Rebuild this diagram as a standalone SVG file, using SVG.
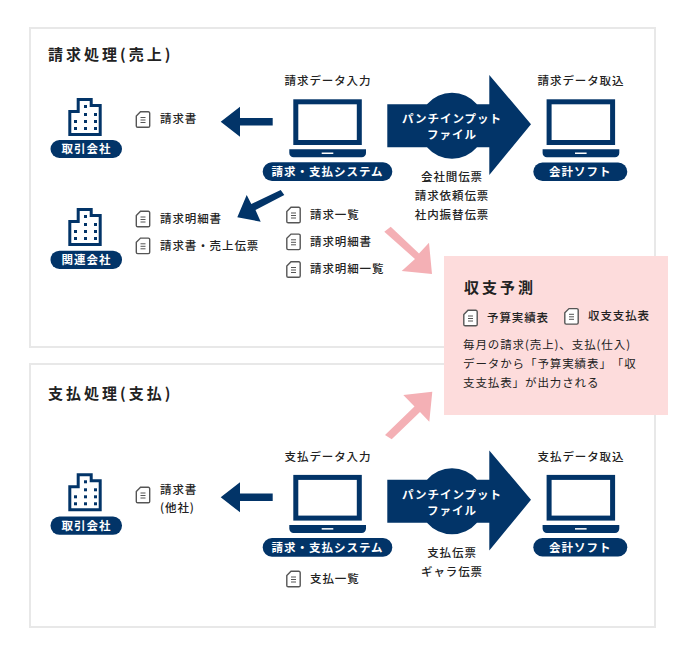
<svg xmlns="http://www.w3.org/2000/svg" width="685" height="659" viewBox="0 0 685 659">
<style>
text{font-family:"Noto Sans CJK JP","Noto Sans",sans-serif;fill:#222;font-size:11.500px;font-weight:500;letter-spacing:.9px;text-spacing-trim:space-all}
.c{text-anchor:middle}
.t{font-size:15px;font-weight:700;letter-spacing:3px}
.w{fill:#fff;font-size:11.500px;font-weight:700;text-anchor:middle;letter-spacing:1px}
.p{fill:#fff;stroke:#e8e8e8;stroke-width:2}
.n{fill:#023468}
.k{fill:#f4b0b5}
.b{font-weight:400}
</style>
<defs>
<g id="doc"><path d="M5 .8H12.800a1.400 1.400 0 0 1 1.400 1.400V14.900a1.400 1.400 0 0 1-1.400 1.400H2.200A1.400 1.400 0 0 1 .8 14.900V5Z" fill="#fff" stroke="#555" stroke-width="1.400"/><path d="M5 6.500H10M5 9H10M5 11.500H10" stroke="#555" stroke-width="1"/></g>
<g id="laptop"><rect x="295.800" y="101.800" width="63.500" height="40.700" fill="#fff" stroke="#023468" stroke-width="5"/><path d="M289.300 149.300H366V153a4.300 4.300 0 0 1-4.300 4.300H293.600a4.300 4.300 0 0 1-4.300-4.300Z" fill="#023468"/><rect x="321.700" y="152.500" width="11.600" height="1.500" fill="#fff"/></g>
<g id="building"><path d="M69.800 134.500V111.500H78.200V99.500H91.200V105.500H100.200V134.500Z" fill="#fff" stroke="#023468" stroke-width="3"/><g fill="#023468"><rect x="84" y="105" width="3" height="3"/><rect x="84" y="113" width="3" height="3"/><rect x="94" y="113" width="3" height="3"/><rect x="74" y="120" width="3" height="3"/><rect x="84" y="120" width="3" height="3"/><rect x="94" y="120" width="3" height="3"/><rect x="74" y="127" width="3" height="3"/><rect x="84" y="127" width="3" height="3"/><rect x="94" y="127" width="3" height="3"/></g></g>
<path id="bigarrow" d="M387.300 104.300H427A33 33 0 0 1 477 104.300H489.300V75L531 124.300 489.300 175V147.300H477A33 33 0 0 1 427 147.300H387.300Z" fill="#023468"/>
<path id="leftarrow" d="M220.700 121.700L240 106.700V118H272.700V125.500H240V136.700Z" fill="#023468"/>
</defs>
<rect class="p" x="30" y="28" width="625" height="319"/>
<rect class="p" x="30" y="364" width="625" height="263"/>
<rect x="444" y="256" width="224" height="159" fill="#fddcdc"/>
<g id="connectors">
<use href="#leftarrow"/>
<use href="#leftarrow" y="375.600"/>
<path class="n" d="M237.300 217.300L246.700 195 251.300 204 280.700 190 284.300 195 255.500 210 260.700 221.700Z"/>
<path class="k" d="M432 274L401.700 271 415 259 384.300 231.700 390.700 226.700 419 253.500 429 242.700Z"/>
<path class="k" d="M432.300 391.700L403.300 395 414.500 406.500 385 435 391.700 439.300 420 412 429.300 421.700Z"/>
<use href="#bigarrow"/>
<use href="#bigarrow" y="375.500"/>
</g>
<text class="t" x="48" y="60">請求処理(売上)</text>
<text class="t" x="48" y="399">支払処理(支払)</text>
<g id="n-torihiki1"><use href="#building"/><rect class="n" x="50.500" y="140" width="71.500" height="18" rx="9"/><text class="w" x="86.500" y="153.300">取引会社</text></g>
<g id="n-kanren"><use href="#building" y="110"/><rect class="n" x="50.500" y="250.700" width="71.500" height="18.300" rx="9"/><text class="w" x="86.500" y="264.200">関連会社</text></g>
<g id="n-torihiki2"><use href="#building" y="375.300"/><rect class="n" x="50.500" y="516.500" width="71.500" height="18.300" rx="9"/><text class="w" x="86.500" y="530">取引会社</text></g>
<g id="n-seikyu-in"><text class="c" x="328" y="85">請求データ入力</text><use href="#laptop"/><rect class="n" x="262.700" y="162.300" width="129.600" height="18.700" rx="9.300"/><text class="w" x="327.500" y="176">請求・支払システム</text></g>
<g id="n-seikyu-soft"><text class="c" x="581" y="85">請求データ取込</text><use href="#laptop" x="253.300"/><rect class="n" x="533.300" y="162.500" width="94" height="18.500" rx="9.200"/><text class="w" x="580.300" y="176">会計ソフト</text></g>
<g id="n-shiharai-in"><text class="c" x="328" y="460.500">支払データ入力</text><use href="#laptop" y="375.600"/><rect class="n" x="262.700" y="538" width="129.600" height="18.700" rx="9.300"/><text class="w" x="327.500" y="552">請求・支払システム</text></g>
<g id="n-shiharai-soft"><text class="c" x="581" y="460.500">支払データ取込</text><use href="#laptop" x="253.300" y="375.600"/><rect class="n" x="533.300" y="538" width="94" height="18.500" rx="9.200"/><text class="w" x="580.300" y="552">会計ソフト</text></g>
<text class="w"><tspan x="452" y="123">パンチインプット</tspan><tspan x="452" y="139">ファイル</tspan></text>
<text class="w"><tspan x="452" y="498.500">パンチインプット</tspan><tspan x="452" y="514.500">ファイル</tspan></text>
<text class="c"><tspan x="452" y="181">会社間伝票</tspan><tspan x="452" y="200">請求依頼伝票</tspan><tspan x="452" y="219">社内振替伝票</tspan></text>
<text class="c"><tspan x="452" y="556.500">支払伝票</tspan><tspan x="452" y="575.500">ギャラ伝票</tspan></text>
<use href="#doc" x="135.500" y="111"/><text x="160" y="123">請求書</text>
<use href="#doc" x="135.500" y="210.500"/><text x="160" y="222.500">請求明細書</text>
<use href="#doc" x="135.500" y="237.300"/><text x="160" y="249.500">請求書・売上伝票</text>
<use href="#doc" x="286" y="206.500"/><text x="310" y="218.500">請求一覧</text>
<use href="#doc" x="286" y="233.300"/><text x="310" y="245.500">請求明細書</text>
<use href="#doc" x="286" y="261"/><text x="310" y="273">請求明細一覧</text>
<use href="#doc" x="135.500" y="486.500"/><text><tspan x="160" y="493.500">請求書</tspan><tspan x="160" y="511.500">(他社)</tspan></text>
<use href="#doc" x="286" y="570.500"/><text x="310" y="582.500">支払一覧</text>
<g id="n-yosoku">
<text x="464" y="293" style="font-size:15px;font-weight:700;letter-spacing:3px">収支予測</text>
<use href="#doc" x="463" y="309.500"/><text x="487" y="322">予算実績表</text>
<use href="#doc" x="564" y="307.800"/><text x="588" y="320">収支支払表</text>
<text class="b"><tspan x="463" y="349">毎月の請求(売上)、支払(仕入)</tspan><tspan x="463" y="368">データから「予算実績表」「収</tspan><tspan x="463" y="387">支支払表」が出力される</tspan></text>
</g>
</svg>
